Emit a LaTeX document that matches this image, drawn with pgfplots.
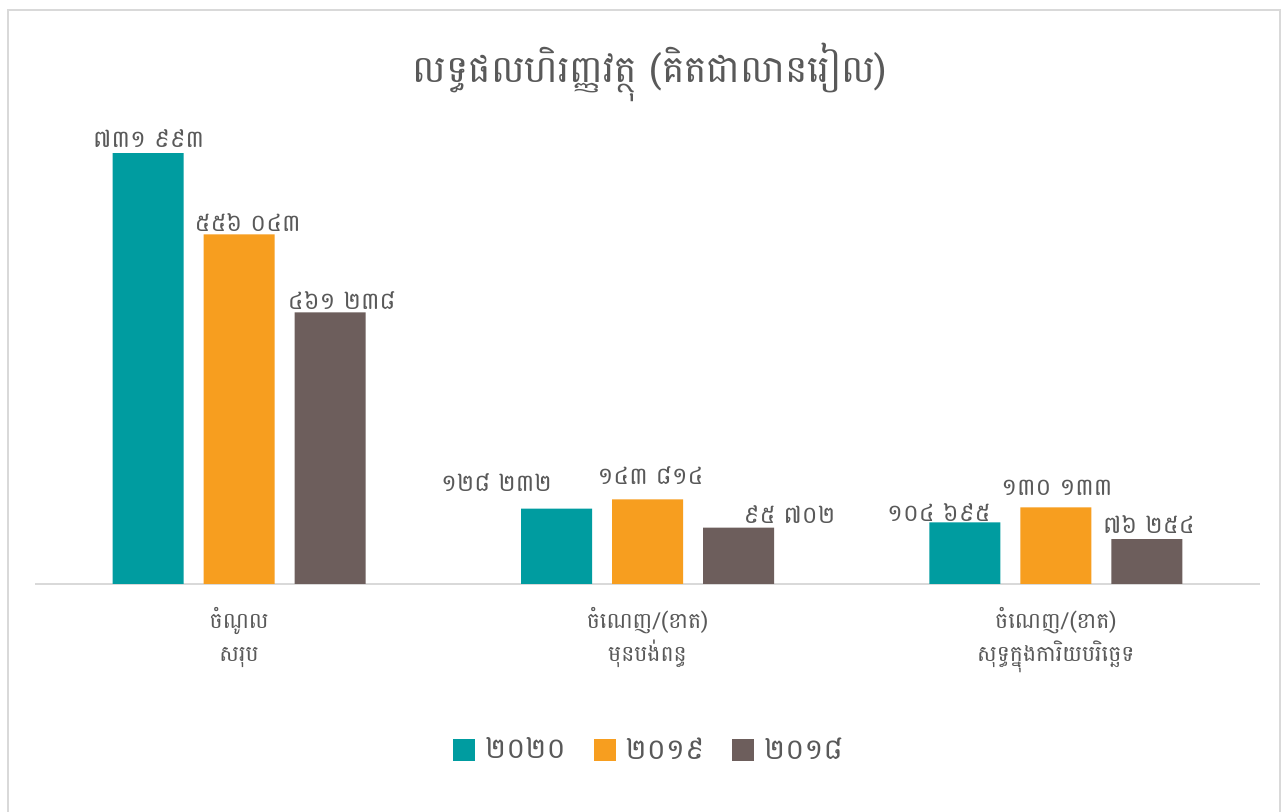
\documentclass[border=0pt]{standalone}
\usepackage{pgfplots}
\pgfplotsset{compat=1.18}
\usepackage{pgfplotstable}
\usepackage{fontspec}
\setmainfont[Script=Khmer]{Battambang}
\definecolor{cteal}{HTML}{009CA0}
\definecolor{corange}{HTML}{F79E1F}
\definecolor{cbrown}{HTML}{6D5E5C}
\definecolor{ctext}{HTML}{595959}
\definecolor{cline}{HTML}{D9D9D9}

\pgfplotstableread[col sep=comma]{
x,y,dx,dy,lab
0,731993,0.25,-1,៧៣១ ៩៩៣
1,128232,-30,5,១២៨ ២៣២
2,104695,-13,-3,១០៤ ៦៩៥
}\datateal
\pgfplotstableread[col sep=comma]{
x,y,dx,dy,lab
0,594000,4.25,-2,៥៥៦ ០៤៣
1,143814,1.5,4,១៤៣ ៨១៤
2,130133,0.5,2.5,១៣០ ១៣៣
}\dataorange
\pgfplotstableread[col sep=comma]{
x,y,dx,dy,lab
0,461238,5.75,-2,៤៦១ ២៣៨
1,95702,25.5,-1.5,៩៥ ៧០២
2,76254,1,-0.5,៧៦ ២៥៤
}\databrown

\pgfplotsset{lblstyle/.style={
  visualization depends on={\thisrow{dx} \as \dx},
  visualization depends on={\thisrow{dy} \as \dy},
  nodes near coords,
  point meta=explicit symbolic,
  every node near coord/.append style={font=\fontsize{12}{14}\selectfont, text=ctext, xshift=\dx pt, yshift=\dy pt},
}}

\begin{document}
\begin{tikzpicture}
\path[use as bounding box] (0,0) rectangle (644pt,406pt);
\fill[white] (0,0) rectangle (644pt,406pt);
\draw[cline, line width=0.75pt] (4pt,-5pt) -- (4pt,401pt) -- (640pt,401pt) -- (640pt,-5pt);
\begin{axis}[
  at={(17.5pt,114pt)}, anchor=south west,
  scale only axis, width=612.5pt, height=235.5pt,
  ybar=10pt, bar width=35.5pt,
  xmin=-0.5, xmax=2.5, ymin=0, ymax=800000,
  enlargelimits=false,
  axis y line=none,
  axis x line*=bottom,
  x axis line style={draw=cline, line width=0.75pt, -},
  xtick={0,1,2},
  xticklabels={{ចំណូល\\សរុប},{ចំណេញ/(ខាត)\\មុនបង់ពន្ធ},{ចំណេញ/(ខាត)\\សុទ្ធក្នុងការិយបរិច្ឆេទ}},
  xticklabel style={align=center, font=\fontsize{11}{16.5}\selectfont, text=ctext, yshift=-8pt},
  major tick length=0pt,
  title={លទ្ធផលហិរញ្ញវត្ថុ (គិតជាលានរៀល)},
  title style={at={(axis description cs:0.502,1.0615)}, anchor=center, font=\fontsize{18.8}{22}\selectfont, text=ctext},
  legend columns=3,
  legend style={at={(axis description cs:0.502,-0.352)}, anchor=center, draw=none, font=\fontsize{14.5}{16}\selectfont, text=ctext,
    /tikz/every odd column/.append style={column sep=3pt},
    /tikz/every even column/.append style={column sep=12pt}},
  legend image code/.code={\fill[#1,draw=none] (0pt,-5.5pt) rectangle (11pt,5.5pt);},
]
\addplot[fill=cteal, draw=none, lblstyle] table[x=x,y=y,meta=lab]{\datateal};
\addplot[fill=corange, draw=none, lblstyle] table[x=x,y=y,meta=lab]{\dataorange};
\addplot[fill=cbrown, draw=none, lblstyle] table[x=x,y=y,meta=lab]{\databrown};
\legend{២០២០,២០១៩,២០១៨}
\end{axis}
\end{tikzpicture}
\end{document}
